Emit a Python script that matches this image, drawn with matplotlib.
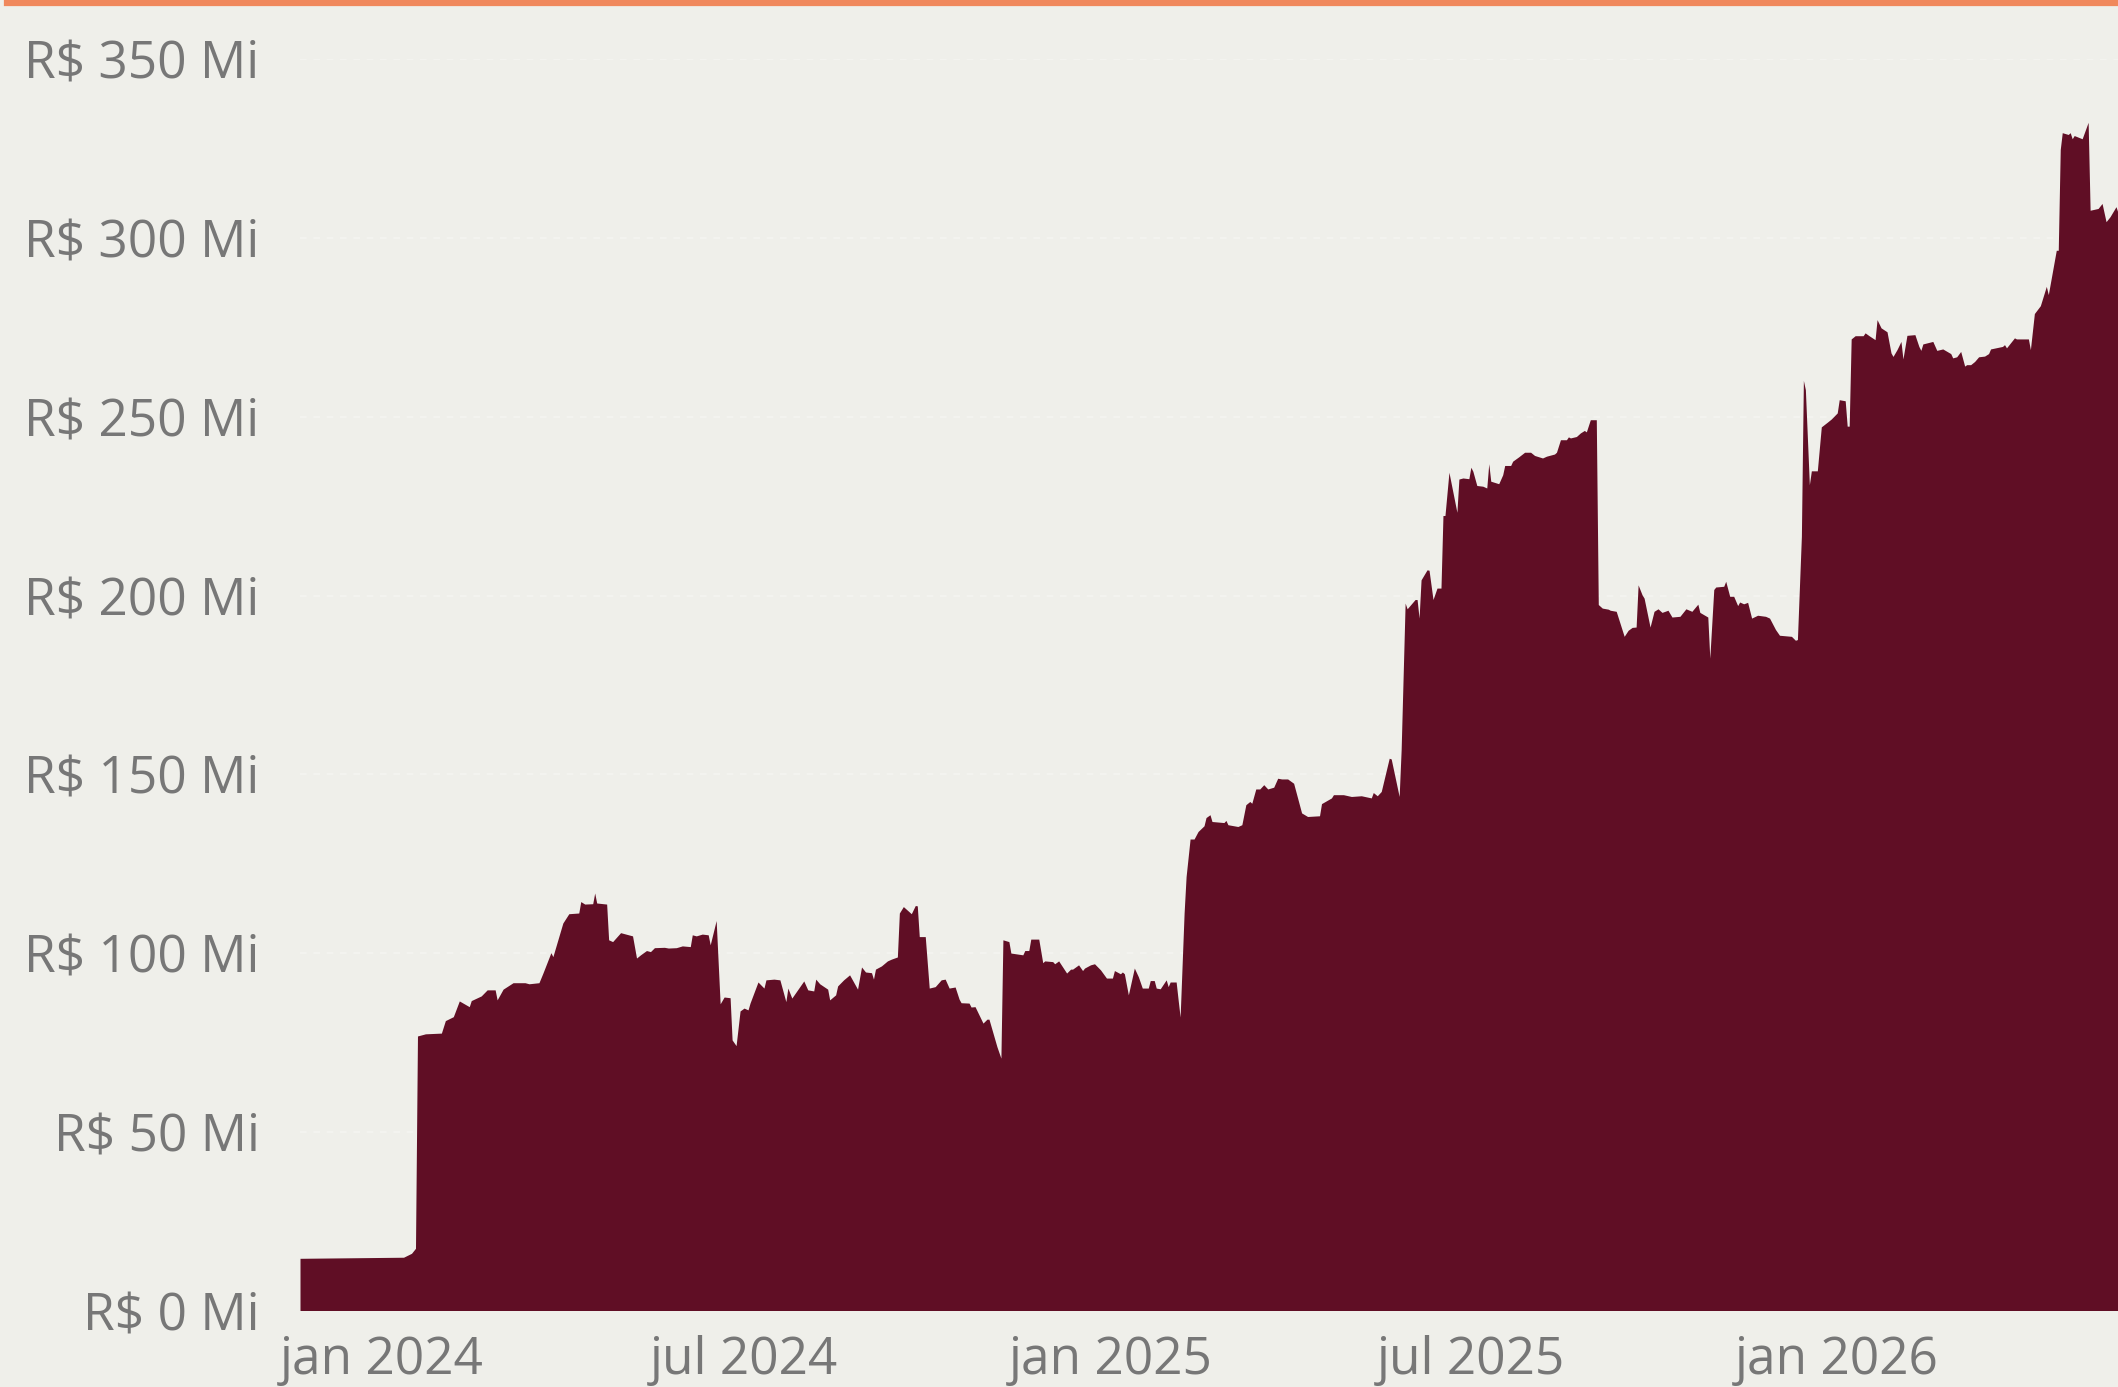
import matplotlib
matplotlib.use("Agg")
import matplotlib.pyplot as plt
import numpy as np
from matplotlib.lines import Line2D
from matplotlib.ticker import FuncFormatter

# days counted from 2024-01-01, value in R$ millions
days_from_2024 = [
    -41, 11, 15, 17, 18, 22, 30, 32, 36, 39, 44, 45, 50, 53, 57, 58, 61, 66, 72, 74,
    79, 81, 85, 86, 91, 94, 99, 100, 102, 106, 107, 108, 113, 114, 116, 120, 126, 128,
    130, 133, 135, 137, 142, 144, 148, 151, 155, 156, 158, 161, 164, 165, 168, 170,
    172, 175, 176, 178, 180, 182, 184, 185, 189, 192, 193, 197, 200, 203, 204, 206,
    212, 214, 217, 218, 220, 224, 225, 228, 229, 232, 235, 239, 241, 243, 246, 247,
    248, 251, 254, 256, 259, 260, 262, 266, 268, 269, 270, 273, 275, 278, 281, 283,
    285, 288, 290, 291, 295, 296, 298, 302, 304, 305, 309, 311, 312, 315, 316, 322,
    323, 325, 326, 330, 332, 333, 337, 338, 340, 344, 346, 347, 350, 352, 353, 356,
    358, 361, 364, 367, 368, 371, 372, 373, 375, 378, 380, 382, 385, 386, 388, 389,
    391, 394, 395, 396, 399, 400, 401, 403, 404, 406, 408, 410, 413, 414, 416, 417,
    423, 424, 425, 430, 432, 434, 436, 437, 439, 441, 443, 445, 448, 450, 452, 455,
    458, 462, 465, 471, 472, 477, 478, 483, 487, 492, 497, 498, 500, 502, 506, 507,
    511, 512, 514, 515, 519, 520, 521, 522, 525, 526, 528, 530, 532, 533, 534, 536,
    540, 541, 543, 546, 547, 548, 550, 553, 555, 556, 557, 561, 563, 564, 567, 568,
    571, 574, 577, 579, 583, 585, 589, 590, 592, 595, 596, 597, 600, 602, 604, 605,
    607, 610, 611, 613, 616, 617, 620, 624, 626, 628, 630, 631, 633, 634, 637, 639,
    641, 643, 646, 648, 652, 655, 658, 661, 662, 666, 667, 669, 670, 674, 675, 677,
    679, 681, 682, 684, 686, 688, 691, 695, 697, 700, 702, 708, 710, 711, 713, 714,
    715, 717, 718, 721, 723, 726, 728, 731, 732, 735, 736, 737, 738, 740, 744, 745,
    747, 750, 751, 753, 756, 758, 759, 761, 763, 764, 766, 770, 772, 773, 774, 779,
    781, 784, 788, 789, 791, 793, 795, 796, 798, 800, 802, 805, 807, 808, 814, 815,
    816, 820, 821, 827, 828, 830, 833, 836, 837, 841, 842, 843, 844, 847, 848, 849,
    850, 854, 857, 858, 862, 864, 866, 868, 871, 872,
]
value_mi = [
    14.6, 14.9, 16.0, 17.4, 76.8, 77.4, 77.6, 81.1, 82.2, 86.6, 85.0, 86.7, 88.0, 89.7,
    89.7, 86.9, 89.9, 91.7, 91.7, 91.4, 91.7, 94.4, 100.1, 99.0, 108.4, 111.0, 111.2,
    114.4, 113.7, 113.8, 116.8, 114.0, 113.7, 103.7, 103.2, 105.7, 104.8, 98.6, 99.5,
    100.7, 100.4, 101.5, 101.6, 101.4, 101.5, 102.0, 101.8, 105.1, 104.8, 105.3, 105.1,
    102.3, 109.1, 85.8, 87.7, 87.5, 75.7, 74.1, 83.8, 84.6, 84.1, 86.0, 91.9, 90.2,
    92.5, 92.7, 92.5, 86.4, 90.2, 87.4, 92.2, 89.7, 89.4, 92.7, 91.4, 89.9, 86.9, 88.3,
    90.8, 92.5, 93.9, 89.9, 96.1, 94.7, 94.5, 92.7, 95.5, 96.4, 97.8, 98.3, 98.9, 111.2,
    113.0, 111.0, 113.3, 113.2, 104.6, 104.6, 90.2, 90.6, 92.5, 92.7, 90.2, 90.5, 87.1,
    86.1, 86.0, 84.9, 85.0, 80.4, 81.5, 81.5, 73.8, 70.6, 103.7, 103.2, 100.0, 99.5,
    100.7, 100.7, 103.9, 103.9, 97.3, 97.8, 97.6, 97.0, 97.8, 94.4, 95.5, 95.5, 96.7,
    95.1, 95.8, 96.7, 97.0, 95.3, 93.0, 93.0, 95.1, 94.2, 94.7, 94.2, 88.3, 95.8, 93.4,
    90.2, 90.2, 92.3, 92.3, 90.2, 90.0, 92.5, 90.6, 91.9, 91.9, 86.9, 82.1, 111.2,
    121.4, 131.9, 131.9, 134.0, 135.6, 137.9, 138.7, 136.8, 136.5, 137.1, 135.9, 135.4,
    135.9, 141.5, 142.4, 141.9, 145.9, 145.9, 147.1, 145.9, 146.4, 148.9, 148.7, 148.7,
    147.5, 139.2, 138.2, 138.4, 141.8, 143.4, 144.3, 144.3, 143.8, 144.0, 143.4, 144.9,
    144.0, 145.2, 154.5, 154.3, 143.8, 156.9, 197.9, 196.3, 198.9, 198.9, 193.7, 204.4,
    207.2, 207.1, 198.9, 202.1, 202.1, 222.4, 222.4, 234.5, 223.3, 232.6, 232.9, 232.7,
    235.9, 234.8, 230.8, 230.6, 230.1, 236.9, 232.0, 231.3, 233.8, 236.4, 236.4, 237.6,
    238.8, 240.1, 240.1, 239.2, 238.5, 239.0, 239.6, 240.1, 243.6, 243.6, 244.4, 244.1,
    244.5, 245.5, 246.2, 245.8, 249.2, 249.2, 197.5, 196.5, 196.2, 195.9, 195.6, 188.6,
    190.3, 191.1, 191.2, 203.0, 200.2, 199.3, 191.2, 195.6, 196.3, 195.3, 195.9, 194.0,
    194.2, 196.3, 195.6, 197.6, 195.3, 194.0, 182.5, 201.7, 202.4, 202.6, 204.0, 199.8,
    199.8, 197.2, 198.2, 197.7, 198.1, 193.7, 194.5, 194.2, 193.7, 190.5, 188.9, 188.6,
    187.5, 187.7, 216.6, 260.2, 257.6, 231.0, 234.9, 234.9, 247.2, 248.5, 249.4, 251.1,
    254.8, 254.5, 247.4, 247.4, 271.8, 272.7, 272.7, 273.5, 272.7, 271.6, 277.2, 274.9,
    273.8, 267.9, 266.9, 268.8, 271.1, 266.2, 272.8, 273.0, 269.7, 268.6, 270.4, 271.1,
    268.6, 269.0, 267.7, 266.5, 266.8, 268.3, 264.2, 264.6, 264.6, 265.5, 266.8, 267.0,
    267.7, 269.0, 269.7, 270.2, 269.3, 272.1, 271.8, 271.8, 268.8, 278.9, 281.1, 286.5,
    284.2, 296.6, 296.6, 324.8, 329.5, 329.0, 329.5, 327.8, 328.7, 327.8, 332.4, 307.8,
    308.3, 309.7, 304.6, 306.0, 308.8, 307.1,
]

tick_dates = ["2024-01-01", "2024-07-01", "2025-01-01", "2025-07-01", "2026-01-01"]
tick_labels = ["jan 2024", "jul 2024", "jan 2025", "jul 2025", "jan 2026"]
y_ticks = [0, 50, 100, 150, 200, 250, 300, 350]

BG = "#EFEFEA"
FILL = "#600E25"
TEXT = "#777777"
ACCENT = "#F0885C"

plt.rcParams["font.family"] = ["Open Sans", "DejaVu Sans"]

dates = np.datetime64("2024-01-01") + np.array(days_from_2024, dtype="timedelta64[D]")
values = np.array(value_mi)

W, H = 2118, 1387
fig = plt.figure(figsize=(W / 100, H / 100), dpi=100, facecolor=BG)
ax = fig.add_axes([300 / W, 76.5 / H, 1 - 300 / W, (1310.5 - 59.4) / H])
ax.set_facecolor(BG)

ax.fill_between(dates, values, 0, color=FILL, linewidth=0, zorder=2)

ax.set_xlim(dates[0], dates[-1])
ax.set_ylim(0, 350)
ax.set_yticks(y_ticks)
ax.yaxis.set_major_formatter(FuncFormatter(lambda v, _: f"R$ {v:.0f} Mi"))
ax.set_xticks(np.array(tick_dates, dtype="datetime64[D]"))
ax.set_xticklabels(tick_labels)

for s in ax.spines.values():
    s.set_visible(False)
ax.tick_params(axis="both", length=0, labelsize=37, labelcolor=TEXT)
ax.tick_params(axis="y", pad=29)
ax.tick_params(axis="x", pad=18)
ax.set_axisbelow(True)
ax.yaxis.grid(True, color="white", alpha=0.3, linestyle=(0, (4, 4)), linewidth=1.2)

# orange accent line along the top edge
fig.add_artist(Line2D([7 / W, 1], [1 - 3 / H, 1 - 3 / H], transform=fig.transFigure,
                      color=ACCENT, linewidth=4.5))

fig.savefig("out.png", dpi=100, facecolor=BG)
